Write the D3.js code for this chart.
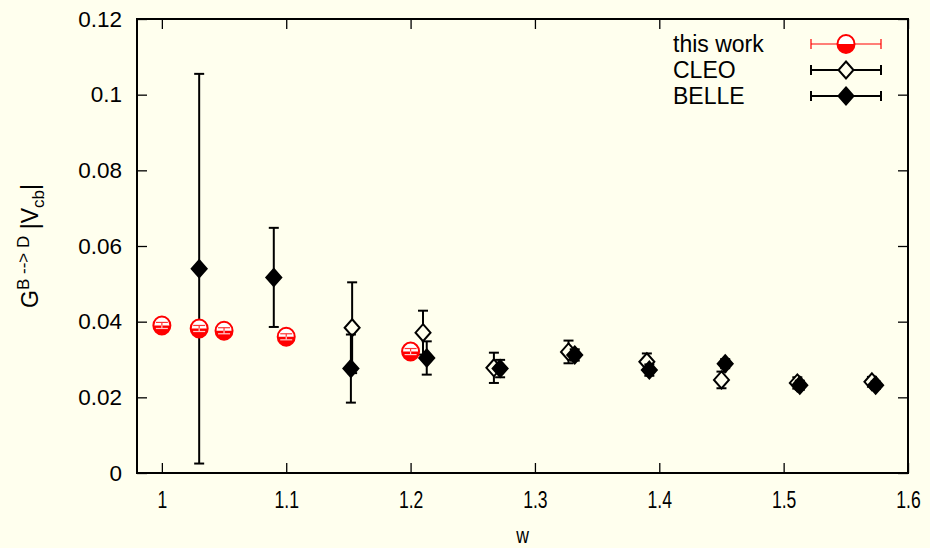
<!DOCTYPE html>
<html>
<head>
<meta charset="utf-8">
<script src="https://cdn.jsdelivr.net/npm/d3@7"></script>
<style>
  html, body { margin: 0; padding: 0; background: #ffffee; }
  svg { display: block; }
  text { font-family: "Liberation Sans", Arial, sans-serif; fill: #000; }
</style>
</head>
<body>
<svg id="chart" width="930" height="548"></svg>
<script>
// Form factor G(w)|Vcb| for B -> D: lattice points and experimental data
const workW   = [1.00, 1.03, 1.05, 1.10, 1.20];
const workG   = [0.0390, 0.0382, 0.0376, 0.0360, 0.0321];
const workErr = [0.0008, 0.0008, 0.0008, 0.0008, 0.0008];

const cleoW   = [1.153, 1.210, 1.267, 1.327, 1.390, 1.450, 1.511, 1.571];
const cleoG   = [0.0384, 0.0371, 0.0278, 0.0320, 0.0294, 0.0246, 0.0238, 0.0241];
const cleoErr = [0.0120, 0.0058, 0.0040, 0.0030, 0.0022, 0.0022, 0.0015, 0.0013];

const belleW   = [1.030, 1.090, 1.152, 1.213, 1.272, 1.332, 1.392, 1.453, 1.513, 1.574];
const belleG   = [0.0540, 0.0517, 0.0276, 0.0304, 0.0276, 0.0312, 0.0272, 0.0289, 0.0232, 0.0232];
const belleErr = [0.0515, 0.0131, 0.0090, 0.0044, 0.0023, 0.0015, 0.0015, 0.0012, 0.0012, 0.0010];

const xTicks = [1, 1.1, 1.2, 1.3, 1.4, 1.5, 1.6];
const yTicks = [0, 0.02, 0.04, 0.06, 0.08, 0.1, 0.12];
const legendLabels = ["this work", "CLEO", "BELLE"];

const svg = d3.select("#chart");
const margin = { left: 137, right: 22, top: 19, bottom: 75 };
const W = 930, H = 548;
const BG = "#ffffee";

const x = d3.scaleLinear().domain([0.98, 1.6]).range([margin.left, W - margin.right]);
const y = d3.scaleLinear().domain([0, 0.12]).range([H - margin.bottom, margin.top]);

const x0 = x.range()[0], x1 = x.range()[1];
const y0 = y.range()[0], y1 = y.range()[1];
const tickLen = 10;

// Axes with inward ticks on all four sides
const fmt = d => String(+d.toFixed(2));
const axB = svg.append("g").attr("transform", `translate(0,${y0})`)
  .call(d3.axisBottom(x).tickValues(xTicks).tickSizeInner(-tickLen).tickSizeOuter(0).tickPadding(17).tickFormat(fmt));
const axT = svg.append("g").attr("transform", `translate(0,${y1})`)
  .call(d3.axisTop(x).tickValues(xTicks).tickSizeInner(-tickLen).tickSizeOuter(0).tickFormat(""));
const axL = svg.append("g").attr("transform", `translate(${x0},0)`)
  .call(d3.axisLeft(y).tickValues(yTicks).tickSizeInner(-tickLen).tickSizeOuter(0).tickPadding(15).tickFormat(fmt));
const axR = svg.append("g").attr("transform", `translate(${x1},0)`)
  .call(d3.axisRight(y).tickValues(yTicks).tickSizeInner(-tickLen).tickSizeOuter(0).tickFormat(""));

[axB, axT, axL, axR].forEach(a => {
  a.select(".domain").remove();
  a.selectAll(".tick line").attr("stroke", "#000").attr("stroke-width", 1.3);
  a.selectAll("text").style("font-size", "22.5px").attr("fill", "#000");
});
// narrower glyphs on the w axis
axB.selectAll("text").attr("transform", "scale(0.78,1.05)");

// Frame
svg.append("rect").attr("x", x0).attr("y", y1).attr("width", x1 - x0).attr("height", y0 - y1)
  .attr("fill", "none").attr("stroke", "#000").attr("stroke-width", 2);

// Axis titles
svg.append("text").attr("transform", `translate(${(x0 + x1) / 2},543) scale(0.8,1)`)
  .attr("text-anchor", "middle").style("font-size", "22px").text("w");

const yl = svg.append("text").attr("transform", `translate(38,${(y0 + y1) / 2}) rotate(-90)`)
  .attr("text-anchor", "middle").style("font-size", "23px");
yl.append("tspan").text("G");
yl.append("tspan").attr("dy", -9).style("font-size", "17px").text("B --> D");
yl.append("tspan").attr("dy", 9).text(" |V");
yl.append("tspan").attr("dy", 6).style("font-size", "17px").text("cb");
yl.append("tspan").attr("dy", -6).text("|");

// Marker shapes
const diamond = (g, cx, cy, filled) => g.append("path")
  .attr("d", `M${cx},${cy - 8.5}L${cx + 7.5},${cy}L${cx},${cy + 8.5}L${cx - 7.5},${cy}Z`)
  .attr("fill", filled ? "#000" : BG).attr("stroke", "#000").attr("stroke-width", 2);

const halfCircle = (g, cx, cy) => {
  const rx = 8.5, ry = 9;
  g.append("ellipse").attr("cx", cx).attr("cy", cy).attr("rx", rx).attr("ry", ry).attr("fill", "#fff")
    .attr("stroke", "#f00").attr("stroke-width", 2);
  g.append("path").attr("d", `M${cx - rx},${cy}A${rx},${ry} 0 0 0 ${cx + rx},${cy}Z`).attr("fill", "#f00");
};

const yErr = (g, cx, v, e, color, cap) => {
  g.append("line").attr("x1", cx).attr("x2", cx).attr("y1", y(v - e)).attr("y2", y(v + e))
    .attr("stroke", color).attr("stroke-width", 2);
  [v - e, v + e].forEach(t => g.append("line").attr("x1", cx - cap).attr("x2", cx + cap)
    .attr("y1", y(t)).attr("y2", y(t)).attr("stroke", color).attr("stroke-width", 2));
};

const data = svg.append("g");

// CLEO: open diamonds
cleoW.forEach((w, i) => {
  yErr(data, x(w), cleoG[i], cleoErr[i], "#000", 5);
  diamond(data, x(w), y(cleoG[i]), false);
});

// BELLE: filled diamonds
belleW.forEach((w, i) => {
  yErr(data, x(w), belleG[i], belleErr[i], "#000", 5);
  diamond(data, x(w), y(belleG[i]), true);
});

// This work: half-filled circles, the small error bar shows through the marker
workW.forEach((w, i) => {
  const cx = x(w), cy = y(workG[i]);
  halfCircle(data, cx, cy);
  const yt = y(workG[i] + workErr[i]), yb = y(workG[i] - workErr[i]);
  data.append("line").attr("x1", cx).attr("x2", cx).attr("y1", yt).attr("y2", cy)
    .attr("stroke", "#f33").attr("stroke-width", 1.2);
  data.append("line").attr("x1", cx - 6).attr("x2", cx + 6).attr("y1", yt).attr("y2", yt)
    .attr("stroke", "#f33").attr("stroke-width", 1.2);
  data.append("line").attr("x1", cx).attr("x2", cx).attr("y1", cy).attr("y2", yb)
    .attr("stroke", "#fcc").attr("stroke-width", 1.2);
  data.append("line").attr("x1", cx - 6).attr("x2", cx + 6).attr("y1", yb).attr("y2", yb)
    .attr("stroke", "#fcc").attr("stroke-width", 1.2);
});

// Legend
const lg = svg.append("g");
const lgY = [44, 70, 96];
legendLabels.forEach((lab, i) => {
  lg.append("text").attr("x", 673).attr("y", lgY[i]).attr("dy", "0.35em")
    .style("font-size", "23px").text(lab);
  const color = i === 0 ? "#f00" : "#000";
  const sw = i === 0 ? 1.2 : 2;
  lg.append("line").attr("x1", 811).attr("x2", 881).attr("y1", lgY[i]).attr("y2", lgY[i])
    .attr("stroke", color).attr("stroke-width", sw);
  [811, 881].forEach(xx => lg.append("line").attr("x1", xx).attr("x2", xx)
    .attr("y1", lgY[i] - 5).attr("y2", lgY[i] + 5).attr("stroke", color).attr("stroke-width", sw));
  if (i === 0) halfCircle(lg, 846, lgY[i]);
  else diamond(lg, 846, lgY[i], i === 2);
});
</script>
</body>
</html>
